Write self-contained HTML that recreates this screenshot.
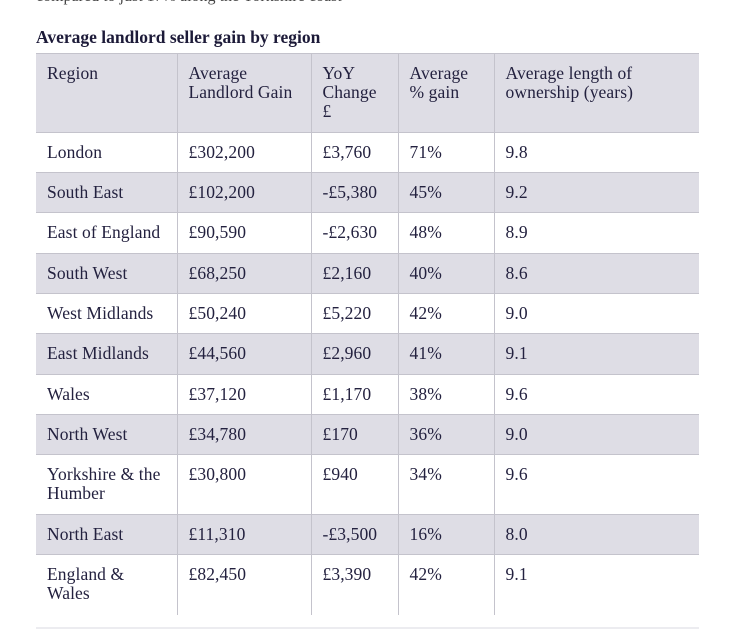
<!DOCTYPE html>
<html><head><style>
body{margin:0;width:733px;height:633px;background:#fff;overflow:hidden;font-family:"Liberation Serif",serif;color:#23213f;position:relative}
.t{position:absolute;left:36px;top:27px;font-weight:bold;font-size:17.5px;color:#1c1a38}
.top{position:absolute;left:36px;top:-12px;font-size:16px;color:#444}
table{position:absolute;left:36px;top:53px;border-collapse:collapse;width:663px;font-size:17.5px;line-height:19px;letter-spacing:0.1px}
td{border:1px solid #c4c3cc;vertical-align:top;padding:10px 6px 0 11px;box-sizing:border-box;white-space:nowrap}
tr.g td{background:#dedde5}
tr td:first-child{border-left:none}
tr td:last-child{border-right:none}
.bl{position:absolute;left:36px;top:627px;width:663px;height:2px;background:#ececf0}
</style></head><body>
<div class="top">compared to just 17% along the Yorkshire coast</div>
<div class="t">Average landlord seller gain by region</div>
<table>
<colgroup><col style="width:141px"><col style="width:134px"><col style="width:87px"><col style="width:96px"><col style="width:205px"></colgroup>
<tr class="g" style="height:79px"><td>Region</td><td>Average<br>Landlord Gain</td><td>YoY<br>Change<br>£</td><td>Average<br>% gain</td><td>Average length of<br>ownership (years)</td></tr>
<tr style="height:40px"><td>London</td><td>£302,200</td><td>£3,760</td><td>71%</td><td>9.8</td></tr>
<tr class="g" style="height:40px"><td>South East</td><td>£102,200</td><td>-£5,380</td><td>45%</td><td>9.2</td></tr>
<tr style="height:41px"><td>East of England</td><td>£90,590</td><td>-£2,630</td><td>48%</td><td>8.9</td></tr>
<tr class="g" style="height:40px"><td>South West</td><td>£68,250</td><td>£2,160</td><td>40%</td><td>8.6</td></tr>
<tr style="height:40px"><td>West Midlands</td><td>£50,240</td><td>£5,220</td><td>42%</td><td>9.0</td></tr>
<tr class="g" style="height:41px"><td>East Midlands</td><td>£44,560</td><td>£2,960</td><td>41%</td><td>9.1</td></tr>
<tr style="height:40px"><td>Wales</td><td>£37,120</td><td>£1,170</td><td>38%</td><td>9.6</td></tr>
<tr class="g" style="height:40px"><td>North West</td><td>£34,780</td><td>£170</td><td>36%</td><td>9.0</td></tr>
<tr style="height:60px"><td>Yorkshire &amp; the<br>Humber</td><td>£30,800</td><td>£940</td><td>34%</td><td>9.6</td></tr>
<tr class="g" style="height:40px"><td>North East</td><td>£11,310</td><td>-£3,500</td><td>16%</td><td>8.0</td></tr>
<tr style="height:60px"><td style="border-bottom:none">England &amp;<br>Wales</td><td style="border-bottom:none">£82,450</td><td style="border-bottom:none">£3,390</td><td style="border-bottom:none">42%</td><td style="border-bottom:none">9.1</td></tr>
</table>
<div class="bl"></div>
</body></html>
